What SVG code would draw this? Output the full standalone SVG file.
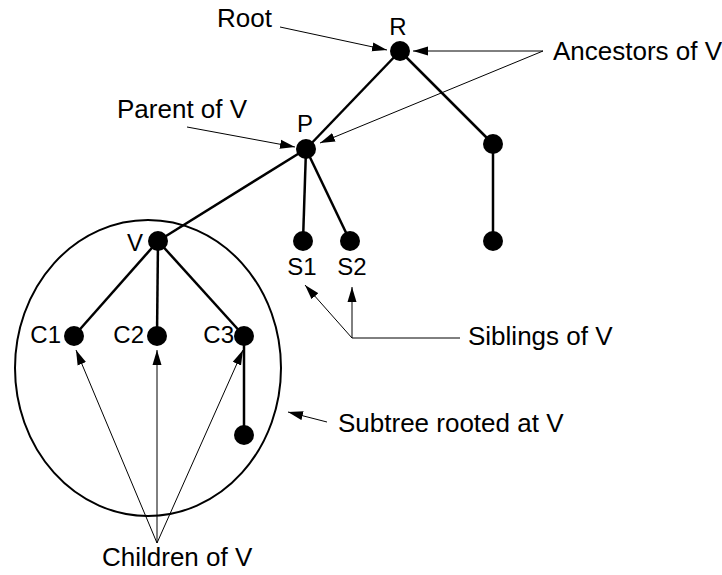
<svg xmlns="http://www.w3.org/2000/svg" width="722" height="575" viewBox="0 0 722 575">
<defs>
<marker id="ah" markerWidth="16" markerHeight="10" refX="15" refY="5" orient="auto" markerUnits="userSpaceOnUse">
<path d="M0,0.5 L15,5 L0,9.5 Z" fill="#000"/>
</marker>
<style>
.edge{stroke:#000;stroke-width:2.5;fill:none}
.node{fill:#000}
.lbl{font-family:"Liberation Sans",Arial,sans-serif;font-size:26px;fill:#000}
.nl{font-family:"Liberation Sans",Arial,sans-serif;font-size:24px;fill:#000}
.ann{stroke:#000;stroke-width:1;fill:none}
</style>
</defs>
<rect width="722" height="575" fill="#fff"/>
<g id="connectors">
<ellipse cx="148" cy="368" rx="133" ry="148" fill="none" stroke="#000" stroke-width="2"/>
<line class="edge" x1="400" y1="51" x2="306" y2="149"/>
<line class="edge" x1="400" y1="51" x2="493" y2="144"/>
<line class="edge" x1="493" y1="144" x2="493" y2="241"/>
<line class="edge" x1="306" y1="149" x2="158" y2="241"/>
<line class="edge" x1="306" y1="149" x2="303" y2="241"/>
<line class="edge" x1="306" y1="149" x2="350" y2="241"/>
<line class="edge" x1="158" y1="241" x2="74" y2="336"/>
<line class="edge" x1="158" y1="241" x2="157" y2="336"/>
<line class="edge" x1="158" y1="241" x2="244" y2="336"/>
<line class="edge" x1="244" y1="336" x2="244" y2="435"/>
<line class="ann" x1="280" y1="27" x2="387" y2="50" marker-end="url(#ah)"/>
<polyline class="ann" points="543,51 413,51" marker-end="url(#ah)"/>
<line class="ann" x1="543" y1="51" x2="320" y2="143" marker-end="url(#ah)"/>
<line class="ann" x1="187" y1="127" x2="295" y2="147" marker-end="url(#ah)"/>
<polyline class="ann" points="460,338 352,338 352,287" marker-end="url(#ah)"/>
<line class="ann" x1="352" y1="338" x2="305" y2="285" marker-end="url(#ah)"/>
<line class="ann" x1="327" y1="422" x2="288" y2="412" marker-end="url(#ah)"/>
<line class="ann" x1="157" y1="543" x2="76" y2="350" marker-end="url(#ah)"/>
<line class="ann" x1="157" y1="543" x2="157" y2="350" marker-end="url(#ah)"/>
<line class="ann" x1="157" y1="543" x2="243" y2="350" marker-end="url(#ah)"/>
</g>
<g id="R"><circle class="node" cx="400" cy="51" r="10"/><text class="nl" x="398" y="35" text-anchor="middle">R</text></g>
<g id="P"><circle class="node" cx="306" cy="149" r="10"/><text class="nl" x="305" y="132" text-anchor="middle">P</text></g>
<g id="A1"><circle class="node" cx="493" cy="144" r="10"/></g>
<g id="A2"><circle class="node" cx="493" cy="241" r="10"/></g>
<g id="V"><circle class="node" cx="158" cy="241" r="10"/><text class="nl" x="143" y="251" text-anchor="end">V</text></g>
<g id="S1"><circle class="node" cx="303" cy="241" r="10"/><text class="nl" x="302" y="275" text-anchor="middle">S1</text></g>
<g id="S2"><circle class="node" cx="350" cy="241" r="10"/><text class="nl" x="352" y="275" text-anchor="middle">S2</text></g>
<g id="C1"><circle class="node" cx="74" cy="336" r="10"/><text class="nl" x="61" y="343" text-anchor="end">C1</text></g>
<g id="C2"><circle class="node" cx="157" cy="336" r="10"/><text class="nl" x="144" y="343" text-anchor="end">C2</text></g>
<g id="C3"><circle class="node" cx="244" cy="336" r="10"/><text class="nl" x="234" y="343" text-anchor="end">C3</text></g>
<g id="D"><circle class="node" cx="244" cy="435" r="10"/></g>
<g id="labels">
<text class="lbl" x="217" y="27">Root</text>
<text class="lbl" x="553" y="60">Ancestors of V</text>
<text class="lbl" x="117" y="118">Parent of V</text>
<text class="lbl" x="468" y="345">Siblings of V</text>
<text class="lbl" x="338" y="432">Subtree rooted at V</text>
<text class="lbl" x="102" y="566">Children of V</text>
</g>
</svg>
